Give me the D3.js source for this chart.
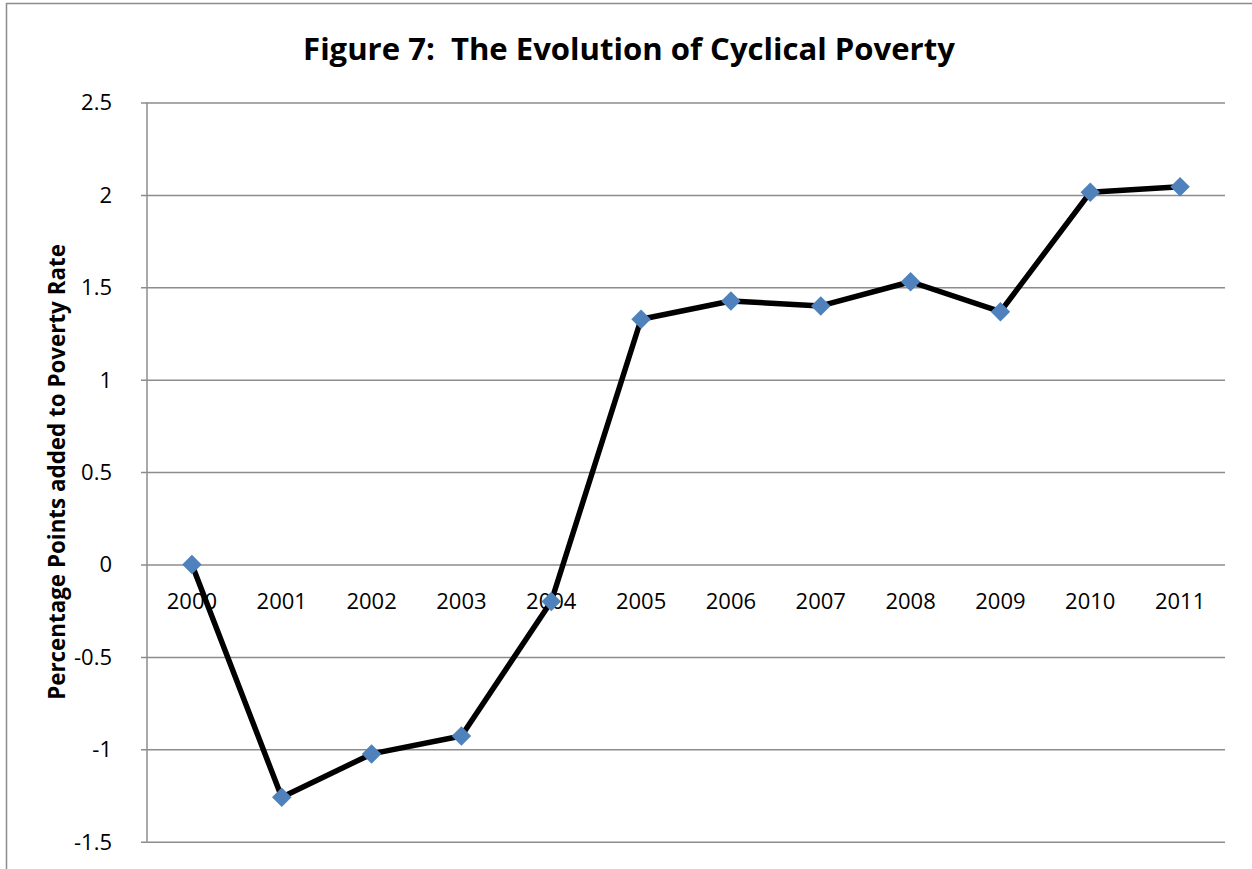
<!DOCTYPE html>
<html>
<head>
<meta charset="utf-8">
<script src="https://cdn.jsdelivr.net/npm/d3@7"></script>
<style>
  html, body { margin: 0; padding: 0; background: #fff; }
  svg { display: block; }
  text { font-family: "Open Sans", "Noto Sans", sans-serif; fill: #000; }
</style>
</head>
<body>
<svg id="chart" width="1252" height="869"></svg>
<script>
// Cyclical poverty, percentage points added to the poverty rate
const years = ["2000", "2001", "2002", "2003", "2004", "2005", "2006", "2007", "2008", "2009", "2010", "2011"];
const values = [0, -1.26, -1.025, -0.928, -0.2, 1.327, 1.426, 1.399, 1.53, 1.368, 2.014, 2.044];
const yTicks = [-1.5, -1, -0.5, 0, 0.5, 1, 1.5, 2, 2.5];

const titleText = "Figure 7:  The Evolution of Cyclical Poverty";
const yLabelText = "Percentage Points added to Poverty Rate";

const svg = d3.select("#chart");

// outer chart frame
svg.append("rect")
  .attr("x", 6.5).attr("y", 3.5)
  .attr("width", 1300).attr("height", 900)
  .attr("fill", "#fff")
  .attr("stroke", "#8c8c8c").attr("stroke-width", 1.5);

const plot = { left: 147, right: 1225, top: 102.5, bottom: 841.7 };

const x = d3.scaleBand().domain(years).range([plot.left, plot.right]);
const y = d3.scaleLinear().domain([-1.5, 2.5]).range([plot.bottom, plot.top]);

// gridlines with short outward ticks on the value axis
const yAxis = d3.axisLeft(y)
  .tickValues(yTicks)
  .tickSize(-(plot.right - plot.left))
  .tickSizeOuter(0)
  .tickFormat(d3.format("~g"))
  .tickPadding(0);

const gy = svg.append("g")
  .attr("transform", `translate(${plot.left},0)`)
  .call(yAxis);
gy.select(".domain").remove();
gy.selectAll(".tick line")
  .attr("x1", -6)
  .attr("stroke", "#8c8c8c").attr("stroke-width", 1.5);
gy.selectAll(".tick text")
  .attr("x", -35)
  .attr("dy", "0.34em")
  .style("font-size", "22px")
  .style("font-family", "'Open Sans', sans-serif")
  .attr("fill", "#000")
  .text(d => d3.format("~g")(d).replace("−", "-"));

// vertical value axis line
svg.append("line")
  .attr("x1", plot.left).attr("x2", plot.left)
  .attr("y1", plot.top).attr("y2", plot.bottom)
  .attr("stroke", "#8c8c8c").attr("stroke-width", 1.5);

// category labels sit just under the zero line
const xAxis = d3.axisBottom(x).tickSize(0).tickPadding(0);
const gx = svg.append("g")
  .attr("transform", `translate(0,${y(0)})`)
  .call(xAxis);
gx.select(".domain").remove();
gx.selectAll(".tick text")
  .attr("y", 44)
  .attr("dy", 0)
  .style("font-size", "22px")
  .style("font-family", "'Open Sans', sans-serif")
  .attr("fill", "#000");

// series line
const line = d3.line()
  .x((d, i) => x(years[i]) + x.bandwidth() / 2)
  .y(d => y(d));

svg.append("path")
  .datum(values)
  .attr("d", line)
  .attr("fill", "none")
  .attr("stroke", "#000")
  .attr("stroke-width", 5.5)
  .attr("stroke-linejoin", "round");

// diamond markers
const diamond = d3.symbol().type(d3.symbolSquare).size(190);
svg.append("g").selectAll("path")
  .data(values)
  .join("path")
  .attr("d", diamond)
  .attr("transform", (d, i) => `translate(${x(years[i]) + x.bandwidth() / 2},${y(d)}) rotate(45)`)
  .attr("fill", "#4f81bd");

// title (double space after the colon is kept)
const title = svg.append("text")
  .attr("x", 629).attr("y", 60)
  .attr("text-anchor", "middle")
  .attr("xml:space", "preserve")
  .style("white-space", "pre")
  .style("font-size", "28px")
  .style("font-weight", "bold")
  .text(titleText);
{
  const w = title.node().getComputedTextLength();
  title.style("font-size", (28 * 652 / w) + "px");
}

// value axis title
const yl = svg.append("text")
  .attr("transform", "translate(65,472) rotate(-90)")
  .attr("text-anchor", "middle")
  .style("font-size", "20px")
  .style("font-weight", "bold")
  .text(yLabelText);
{
  const w = yl.node().getComputedTextLength();
  yl.style("font-size", (20 * 456 / w) + "px");
}
</script>
</body>
</html>
